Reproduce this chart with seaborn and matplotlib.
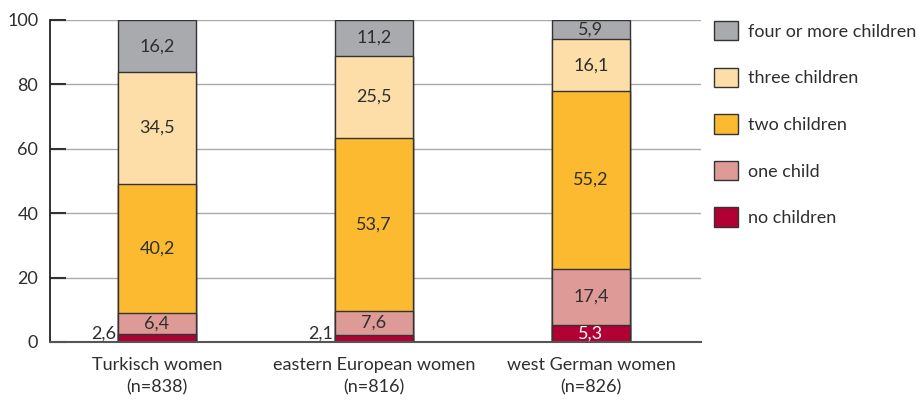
import matplotlib
matplotlib.use("Agg")
import matplotlib.pyplot as plt
from matplotlib.patches import Patch
import numpy as np
import seaborn as sns

# Number of children by group of women (percent)
groups = ["Turkisch women\n(n=838)", "eastern European women\n(n=816)", "west German women\n(n=826)"]
layers = ["no children", "one child", "two children", "three children", "four or more children"]
no_children = [2.6, 2.1, 5.3]
one_child = [6.4, 7.6, 17.4]
two_children = [40.2, 53.7, 55.2]
three_children = [34.5, 25.5, 16.1]
four_plus = [16.2, 11.2, 5.9]
colors = ["#B10034", "#DD9A97", "#FBBA30", "#FDDEA8", "#A9AAAD"]
yticks = [0, 20, 40, 60, 80, 100]

series = [no_children, one_child, two_children, three_children, four_plus]
values = np.array(series)
cum = np.cumsum(values, axis=0)

sns.set_theme(style="white")
plt.rcParams["font.family"] = ["Lato", "DejaVu Sans"]
text_color = "#2E2E2E"

fig = plt.figure(figsize=(9.16, 4.0), dpi=100)
ax = fig.add_axes([50 / 916, 58 / 400, 651 / 916, 322 / 400])

# Stacked bars: draw cumulative totals from the top layer down
bar_width = 0.36
for i in range(len(layers) - 1, -1, -1):
    sns.barplot(x=groups, y=list(cum[i]), color=colors[i], saturation=1,
                width=bar_width, edgecolor="#333333", linewidth=1, ax=ax)

# Value labels; the thin "no children" segments get their label beside the bar
for j in range(len(groups)):
    for i in range(len(layers)):
        v = values[i, j]
        mid = cum[i, j] - v / 2
        label = f"{v:.1f}".replace(".", ",")
        if i == 0 and v < 3:
            ax.text(j - bar_width / 2 - 0.01, 0.15, label, ha="right", va="bottom",
                    fontsize=13, color=text_color)
        else:
            c = "white" if i == 0 else text_color
            ax.text(j, mid, label, ha="center", va="center", fontsize=13, color=c)

ax.set_xlim(-0.493, 2.507)
ax.set_ylim(0, 100)
ax.set_yticks(yticks)
ax.set_yticklabels([str(t) for t in yticks])
ax.yaxis.grid(True, color="#AAAAAA", linewidth=1)
ax.set_axisbelow(True)
ax.set_xlabel("")
ax.set_ylabel("")

for s in ["top", "right"]:
    ax.spines[s].set_visible(False)
ax.spines["left"].set_color("#222222")
ax.spines["left"].set_linewidth(1.3)
ax.spines["bottom"].set_color("#555555")
ax.spines["bottom"].set_linewidth(1.5)

ax.tick_params(axis="y", direction="in", length=11.5, width=1.5, color="#333333",
               pad=8.5, labelsize=13, labelcolor=text_color, left=True)
ax.tick_params(axis="x", length=0, pad=11, labelsize=13, labelcolor=text_color)
for lab in ax.get_xticklabels():
    lab.set_linespacing(1.45)

handles = [Patch(facecolor=colors[i], edgecolor="#333333", linewidth=1, label=layers[i])
           for i in range(len(layers) - 1, -1, -1)]
fig.legend(handles=handles, loc="upper left", bbox_to_anchor=(714 / 916, 379 / 400),
           frameon=False, fontsize=13, labelcolor=text_color, borderpad=0, borderaxespad=0,
           handlelength=1.33, handleheight=1.27, handletextpad=0.55, labelspacing=1.51)

fig.savefig("out.png", dpi=100)
